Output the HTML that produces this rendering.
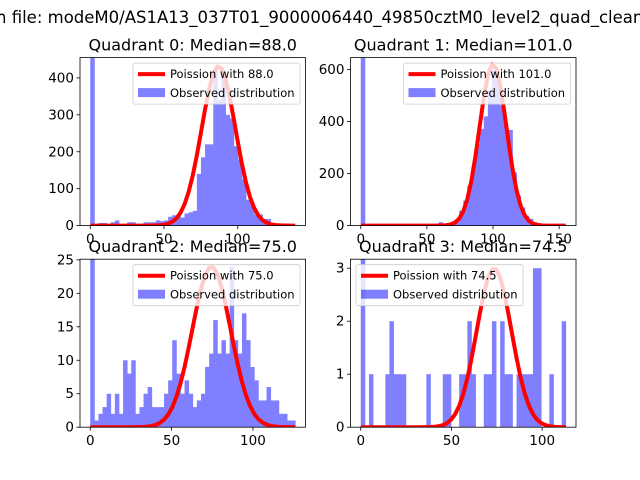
<!DOCTYPE html>
<html><head><meta charset="utf-8"><style>
html,body{margin:0;padding:0;background:#fff;}
svg{display:block;font-family:"DejaVu Sans","Liberation Sans",sans-serif;}
</style></head><body>
<svg id="chart" width="640" height="480" viewBox="0 0 640 480" xmlns="http://www.w3.org/2000/svg">
<rect width="640" height="480" fill="#fff"/>
<text x="-4" y="23" font-size="16.5" fill="#000">n file: modeM0/AS1A13_037T01_9000006440_49850cztM0_level2_quad_clean.evt</text>
</svg>
<script>
const q0Counts=[1800,3,7,7,3,9,14,3,3,9,9,5,5,9,9,9,14,12,14,24,28,28,22,33,36,40,140,185,220,220,420,340,410,300,290,215,180,125,70,60,30,30,18,18,6,6,3,2,1,1];
const q1Counts=[2000,0,0,0,0,0,0,0,0,0,0,0,0,0,0,0,3,0,5,13,3,8,12,15,58,96,154,227,314,372,420,520,600,560,460,372,368,205,115,70,38,26,13,9,6,3,2,1,1,1];
const q2Counts=[50,1,2,3,5,2,5,2,10,8,10,2,3,5,6,3,3,3,5,7,13,8,5,7,5,3,4,5,9,11,16,11,13,11,24,13,11,17,13,9,7,4,4,6,4,4,2,2,1,1];
const q3Counts=[10,0,1,0,0,0,1,2,1,1,1,0,0,0,0,0,1,0,0,0,1,1,0,0,1,1,2,1,0,0,1,1,2,0,2,1,1,0,1,1,1,1,3,3,0,0,1,0,0,2];
const quadrantTitles=["Quadrant 0: Median=88.0","Quadrant 1: Median=101.0","Quadrant 2: Median=75.0","Quadrant 3: Median=74.5"];
const legendLabels=["Poission with 88.0","Poission with 101.0","Poission with 75.0","Poission with 74.5"];
const dataMax=[139,155,126,113];
const yMaxes=[455,646,25.1,3.17];
const yTickVals=[[0,100,200,300,400],[0,200,400,600],[0,5,10,15,20,25],[0,1,2,3]];
const xTickVals=[[0,50,100,150],[0,50,100,150],[0,50,100],[0,50,100]];
const curveMu=[87,100,74.5,73.5];
const curvePeak=[432,622,24,3];
const curveSigma=[11.5,10.2,11.8,9.6];

const NS="http://www.w3.org/2000/svg";
const svg=document.getElementById('chart');
const boxes=[{x:80,y:57.6},{x:350.5,y:57.6},{x:80,y:259.2},{x:350.5,y:259.2}];
const W=225.5,H=168;
const allCounts=[q0Counts,q1Counts,q2Counts,q3Counts];
function mk(tag,attrs,parent){const e=document.createElementNS(NS,tag);for(const k in attrs)e.setAttribute(k,attrs[k]);(parent||svg).appendChild(e);return e;}

for(let q=0;q<4;q++){
  const b=boxes[q],counts=allCounts[q],dmax=dataMax[q];
  const margin=dmax*0.05,x0=-margin,x1=dmax+margin;
  const xs=v=>b.x+(v-x0)/(x1-x0)*W;
  const ys=v=>b.y+H-v/yMaxes[q]*H;
  const g=mk('g',{});
  
  
  const cp=mk('clipPath',{id:'clip'+q},g);
  mk('rect',{x:b.x,y:b.y,width:W,height:H},cp);
  const plot=mk('g',{'clip-path':'url(#clip'+q+')'},g);
  const bw=dmax/counts.length;
  const barG=mk('g',{opacity:0.5},plot);
  counts.forEach((c,i)=>{
    if(c<=0)return;
    const r=mk('rect',{x:xs(i*bw),y:ys(c),width:xs((i+1)*bw)-xs(i*bw)+0.4,height:ys(0)-ys(c),fill:'#0000ff'},barG);
    
    
  });
  let pts=[];
  for(let i=0;i<=counts.length;i++){
    const xv=i*bw;
    const yv=curvePeak[q]*Math.exp(-Math.pow(xv-curveMu[q],2)/(2*curveSigma[q]*curveSigma[q]));
    pts.push(xs(xv).toFixed(2)+','+ys(yv).toFixed(2));
  }
  const line=mk('polyline',{points:pts.join(' '),fill:'none',stroke:'#ff0000','stroke-width':4,'stroke-linejoin':'round'},plot);
  
  
  mk('rect',{x:b.x,y:b.y,width:W,height:H,fill:'none',stroke:'#000','stroke-width':0.8},g);
  yTickVals[q].forEach(v=>{
    const y=ys(v);
    mk('line',{x1:b.x-3.5,x2:b.x,y1:y,y2:y,stroke:'#000','stroke-width':0.8},g);
    const t=mk('text',{x:b.x-6,y:y+4.5,'text-anchor':'end','font-size':13.5},g);
    t.textContent=v;
    
    
  });
  xTickVals[q].forEach(v=>{
    const x=xs(v);
    if(x>b.x+W+1)return;
    mk('line',{x1:x,x2:x,y1:b.y+H,y2:b.y+H+3.5,stroke:'#000','stroke-width':0.8},g);
    const t=mk('text',{x:x,y:b.y+H+18,'text-anchor':'middle','font-size':13.5},g);
    t.textContent=v;
    
    
  });
  const tt=mk('text',{x:b.x+W/2,y:b.y-7,'text-anchor':'middle','font-size':16},g);
  tt.textContent=quadrantTitles[q];
  
  
  const lw=167,lh=41;
  const lx=(q===3)?b.x+5.5:b.x+W-5.5-lw, ly=b.y+5.5;
  const lg=mk('g',{},g);
  
  
  mk('rect',{x:lx,y:ly,width:lw,height:lh,rx:2,fill:'#fff','fill-opacity':0.8,stroke:'#ccc','stroke-width':0.8},lg);
  mk('line',{x1:lx+5,x2:lx+32,y1:ly+11,y2:ly+11,stroke:'#ff0000','stroke-width':4},lg);
  mk('rect',{x:lx+5,y:ly+25,width:27,height:9,fill:'#0000ff','fill-opacity':0.5},lg);
  const l1=mk('text',{x:lx+37,y:ly+15,'font-size':11.5},lg);
  l1.textContent=legendLabels[q];
  
  
  const l2=mk('text',{x:lx+37,y:ly+34,'font-size':11.5},lg);
  l2.textContent='Observed distribution';
  
  
}
</script>
</body></html>
